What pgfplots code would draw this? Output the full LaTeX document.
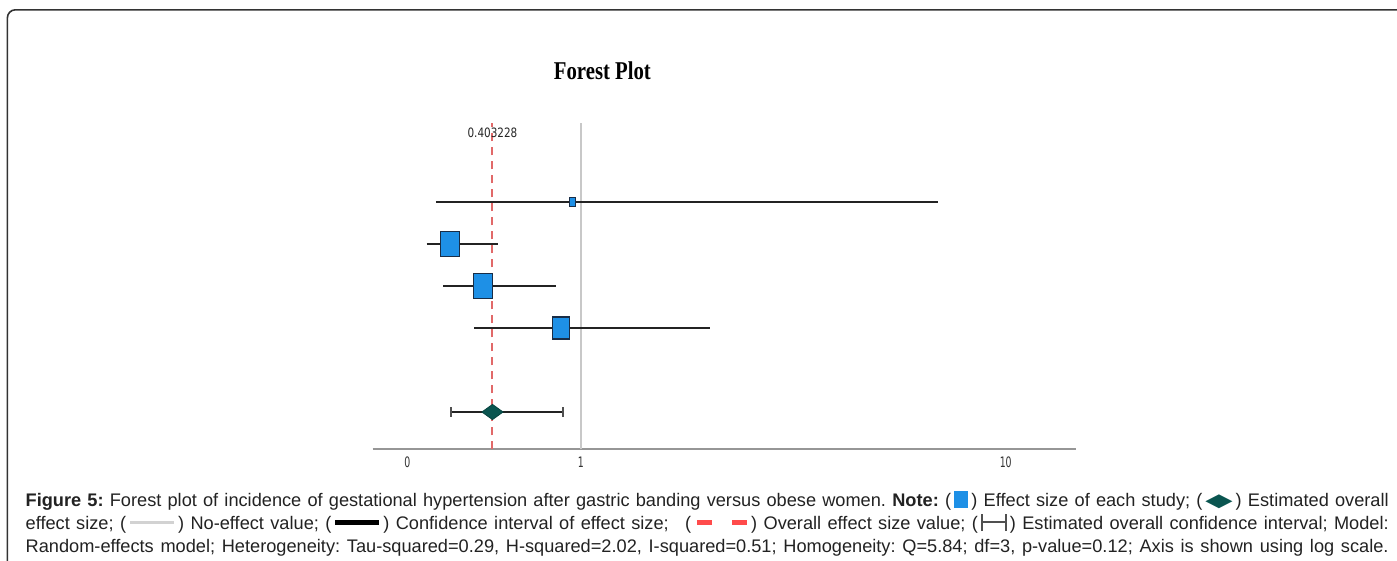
\documentclass[border=0pt]{standalone}
\usepackage{pgfplots}
\pgfplotsset{compat=1.18}
\usepackage{fontspec}
\setmainfont{Liberation Sans}
\newfontfamily\capfont{Liberation Sans}
\newfontfamily\titlefont{Liberation Serif}[FakeStretch=0.81]
\newfontfamily\tickfont{DejaVu Sans}[FakeStretch=0.65]
\newfontfamily\reffont{DejaVu Sans}[FakeStretch=0.81]
\newfontfamily\dejavu{DejaVu Sans}

\definecolor{sqblue}{RGB}{30,144,230}
\definecolor{sqedge}{RGB}{25,45,70}
\definecolor{diafill}{RGB}{10,85,80}
\definecolor{dashred}{RGB}{225,105,105}
\definecolor{capred}{RGB}{255,75,75}
\definecolor{cigray}{RGB}{35,35,35}
\definecolor{axgray}{RGB}{150,150,150}
\definecolor{nulgray}{RGB}{200,200,200}
\definecolor{linegray}{RGB}{210,210,210}
\definecolor{bargray}{RGB}{80,80,80}
\definecolor{captext}{RGB}{34,34,34}

\newcommand\symsq{\textcolor{sqblue}{\rule[-0.6bp]{7.2bp}{8.4bp}}}
\newcommand\symdia{\raisebox{0.2bp}{\textcolor{diafill}{\scalebox{1.95}[1.0]{\dejavu ◆}}}}
\newcommand\symgray{\textcolor{linegray}{\rule[3.0bp]{22bp}{1.1bp}}}
\newcommand\symblack{\textcolor{black}{\rule[2.2bp]{22bp}{2.6bp}}}
\newcommand\symred{\textcolor{capred}{\rule[2.2bp]{7.5bp}{2.6bp}}\hspace{10bp}\textcolor{capred}{\rule[2.2bp]{7.5bp}{2.6bp}}}
\newcommand\symbar{\textcolor{bargray}{\rule[-0.8bp]{1bp}{8.6bp}\rule[3.1bp]{11bp}{1bp}\rule[-0.8bp]{1bp}{8.6bp}}}

\begin{document}
\frenchspacing
\begin{tikzpicture}
\path[use as bounding box] (0,0) rectangle (698.5bp,-280.5bp);

% frame
\draw[line width=0.8bp, black!80, rounded corners=4bp] (3.7bp,-300bp) -- (3.7bp,-4.9bp) -- (720bp,-4.9bp);

% title
\node[anchor=base, inner sep=0pt] at (301.2bp,-39.65bp)
  {\titlefont\bfseries\fontsize{12.8bp}{14bp}\selectfont Forest Plot};

\begin{axis}[
  at={(186.35bp,-224.65bp)}, anchor=south west,
  scale only axis, width=351.5bp, height=163.15bp,
  xmode=log, xmin=0.3240, xmax=14.61, ymin=-0.888, ymax=6.88,
  axis y line=none, axis x line*=bottom,
  x axis line style={draw=axgray, line width=1bp},
  xtick={0.391,1,10}, xticklabels={0,1,10},
  ytick=\empty,
  major tick length=0pt, minor tick length=0pt,
  tick style={draw=none},
  xticklabel style={font=\tickfont\fontsize{7.2bp}{8bp}\selectfont, text=black!80, anchor=north, inner sep=0pt, yshift=-3.7bp},
  clip=false,
]
% no-effect line and overall effect line
\addplot[nulgray, line width=0.8bp] coordinates {(1,-0.888) (1,6.88)};
\addplot[dashred, line width=1bp, dash pattern=on 4bp off 3bp] coordinates {(0.620,-0.888) (0.620,6.88)};
% confidence intervals
\addplot[cigray, line width=1.45bp] coordinates {(0.456,5) (6.94,5)};
\addplot[cigray, line width=1.45bp] coordinates {(0.4342,4) (0.6376,4)};
\addplot[cigray, line width=1.45bp] coordinates {(0.475,3) (0.8762,3)};
\addplot[cigray, line width=1.45bp] coordinates {(0.5619,2) (2.012,2)};
% overall CI with caps
\addplot[cigray, line width=1.45bp, mark=|, mark size=2.5bp, mark options={line width=0.8bp, draw=bargray}] coordinates {(0.4953,0) (0.9071,0)};
% effect sizes
\addplot[only marks, mark=square*, mark size=1.5bp, mark options={fill=sqblue, draw=sqedge, line width=0.6bp, yscale=1.5}] coordinates {(0.955,5)};
\addplot[only marks, mark=square*, mark size=4.75bp, mark options={fill=sqblue, draw=sqedge, line width=0.6bp, yscale=1.35}] coordinates {(0.4926,4)};
\addplot[only marks, mark=square*, mark size=4.75bp, mark options={fill=sqblue, draw=sqedge, line width=0.6bp, yscale=1.35}] coordinates {(0.589,3)};
\addplot[only marks, mark=square*, mark size=4.2bp, mark options={fill=sqblue, draw=sqedge, line width=0.6bp, yscale=1.31}] coordinates {(0.900,2)};
% overall estimate
\addplot[only marks, mark=diamond*, mark size=3.8bp, mark options={fill=diafill, draw=diafill!80!black, line width=0.4bp, xscale=1.85}] coordinates {(0.620,0)};
\node[font=\reffont\fontsize{6.45bp}{7bp}\selectfont, text=black!85, anchor=north, inner sep=0pt, yshift=-2.1bp] at (axis cs:0.620,6.88) {0.403228};
\end{axis}

% caption
\begin{scope}[every node/.style={anchor=base west, inner sep=0pt, text=captext, font=\capfont\fontsize{9.1bp}{11.5bp}\selectfont}]
\node at (12.65bp,-253.35bp) {\makebox[681.5bp][s]{\textbf{Figure 5:} Forest plot of incidence of gestational hypertension after gastric banding versus obese women. \textbf{Note:} (\hspace{1.5bp}\symsq\hspace{1.5bp}) Effect size of each study; (\hspace{1.5bp}\symdia\hspace{1.5bp}) Estimated overall}};
\node at (12.65bp,-264.75bp) {\makebox[681.5bp][s]{effect size; (\hspace{2bp}\symgray\hspace{2bp}) No-effect value; (\hspace{2bp}\symblack\hspace{2bp}) Confidence interval of effect size; \hspace{5bp}(\hspace{3bp}\symred\hspace{2bp}) Overall effect size value; (\hspace{1.5bp}\symbar\hspace{1.5bp}) Estimated overall confidence interval; Model:}};
\node at (12.65bp,-276.25bp) {\makebox[681.5bp][s]{Random-effects model; Heterogeneity: Tau-squared=0.29, H-squared=2.02, I-squared=0.51; Homogeneity: Q=5.84; df=3, p-value=0.12; Axis is shown using log scale.}};
\end{scope}
\end{tikzpicture}
\end{document}
